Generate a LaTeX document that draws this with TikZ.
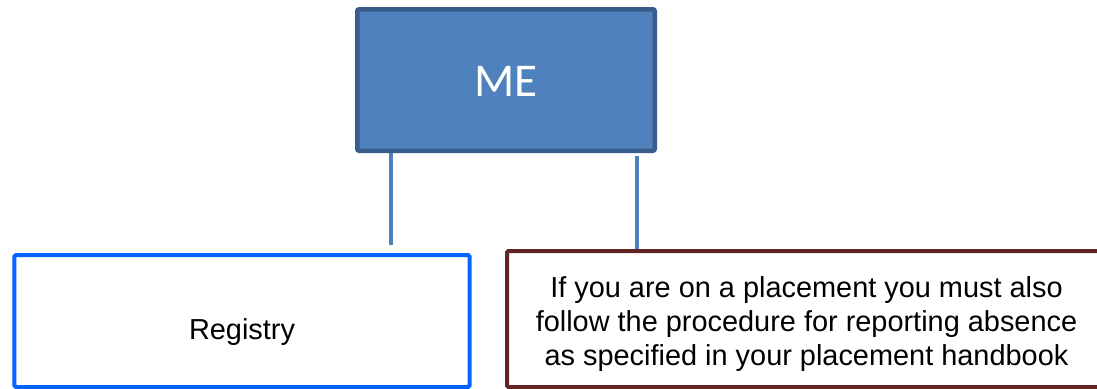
\documentclass[tikz,border=0pt]{standalone}
\usepackage{fontspec}
\setmainfont{Liberation Sans}
\newfontfamily\calibrifont{Carlito}
\definecolor{mefill}{HTML}{4F81BD}
\definecolor{meline}{HTML}{385D8A}
\definecolor{regline}{HTML}{0066FF}
\definecolor{placeline}{HTML}{632523}
\begin{document}
\begin{tikzpicture}[x=1bp,y=-1bp,
  mebox/.style={draw=meline,fill=mefill,line width=4.5bp,rounded corners=2bp,inner sep=0pt,
    minimum width=297.5bp,minimum height=141.5bp,text=white,font=\calibrifont\fontsize{47bp}{50bp}\selectfont},
  childbox/.style={draw,fill=white,line width=4bp,rounded corners=1.5bp,inner sep=0pt,align=center,
    font=\fontsize{28.9bp}{34bp}\selectfont},
  link/.style={draw=mefill,line width=4bp}]
\useasboundingbox (0,0) rectangle (1097,388);
\fill[white] (0,0) rectangle (1097,388);
\node[mebox,text height=32bp,text depth=0bp] (me) at (506,80) {ME};
\node[childbox,draw=regline,minimum width=455bp,minimum height=132bp,text height=42bp,text depth=6bp] (reg) at (242,321) {Registry};
\node[childbox,draw=placeline,minimum width=599bp,minimum height=136bp,text height=98bp,text depth=6bp] (place) at (806.5,319)
  {If you are on a placement you must also\\follow the procedure for reporting absence\\as specified in your placement handbook};
\coordinate (c1) at (391,245);
\coordinate (c2) at (637,249);
\draw[link] (me.south -| c1) -- (c1);
\draw[link,shorten <=3bp] (me.south -| c2) -- (c2);
\end{tikzpicture}
\end{document}
